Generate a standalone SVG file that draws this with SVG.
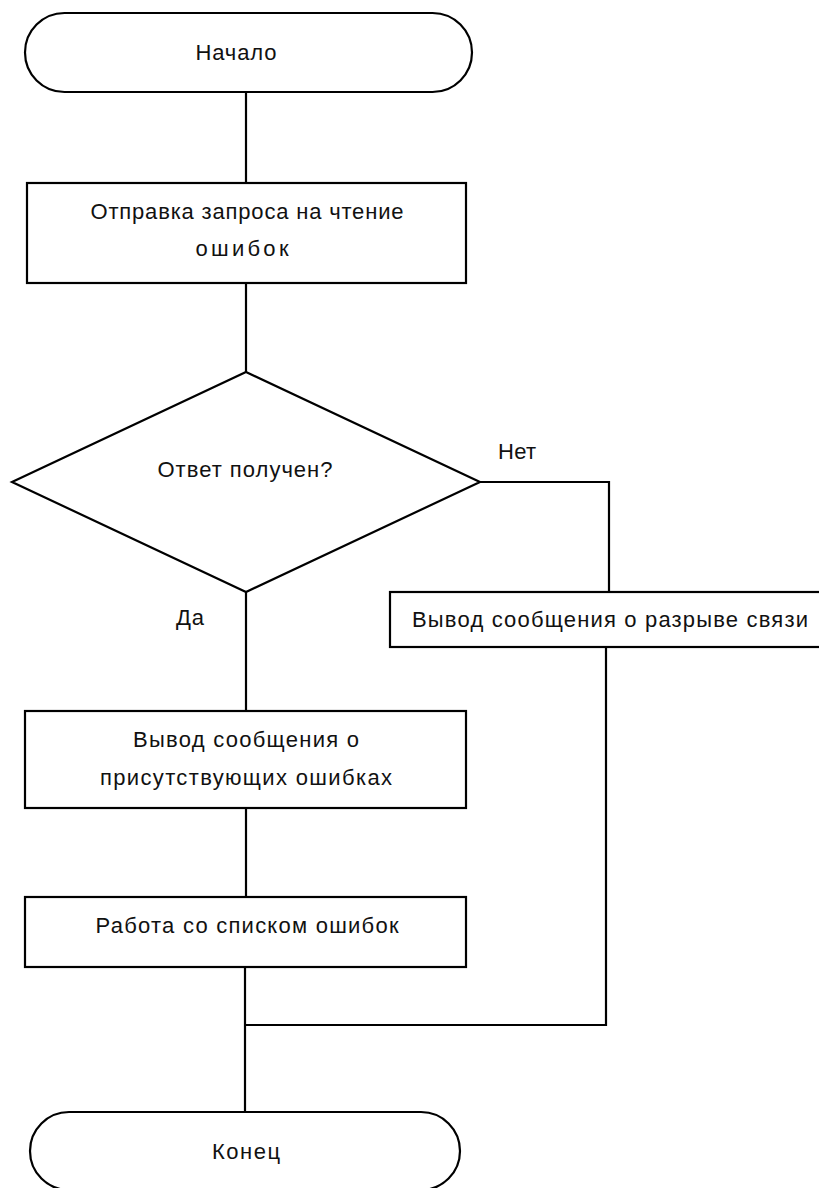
<svg xmlns="http://www.w3.org/2000/svg" width="819" height="1188" viewBox="0 0 819 1188">
<style>
.s{fill:#fff;stroke:#000;stroke-width:2.2}
.c{fill:none;stroke:#000;stroke-width:2.2}
text{font-family:"Liberation Sans",Arial,sans-serif;font-size:22px;fill:#111;text-anchor:middle}
</style>
<rect width="819" height="1188" fill="#fff"/>
<g id="connectors">
<line class="c" x1="246" y1="92" x2="246" y2="183"/>
<line class="c" x1="246" y1="283" x2="246" y2="372"/>
<line class="c" x1="246" y1="592" x2="246" y2="711"/>
<line class="c" x1="246" y1="808" x2="246" y2="897"/>
<line class="c" x1="245" y1="967" x2="245" y2="1112"/>
<polyline class="c" points="480,482 609,482 609,592"/>
<polyline class="c" points="606,647 606,1025 245,1025"/>
<text x="517" y="459" textLength="38">Нет</text>
<text x="190" y="625" textLength="28">Да</text>
</g>
<g id="start">
<rect class="s" x="25" y="13" width="447" height="79" rx="39.5"/>
<text x="236" y="60" textLength="81">Начало</text>
</g>
<g id="request">
<rect class="s" x="27" y="183" width="439" height="100"/>
<text x="247" y="219" textLength="313">Отправка запроса на чтение</text>
<text x="242" y="256" textLength="93">ошибок</text>
</g>
<g id="decision">
<polygon class="s" points="246,372 480,482 246,592 12,482"/>
<text x="245" y="477" textLength="175">Ответ получен?</text>
</g>
<g id="disconnect">
<rect class="s" x="390" y="592" width="440" height="55"/>
<text x="610" y="627" textLength="396">Вывод сообщения о разрыве связи</text>
</g>
<g id="errors">
<rect class="s" x="25" y="711" width="441" height="97"/>
<text x="246" y="747" textLength="226">Вывод сообщения о</text>
<text x="246" y="785" textLength="292">присутствующих ошибках</text>
</g>
<g id="worklist">
<rect class="s" x="25" y="897" width="441" height="70"/>
<text x="247" y="933" textLength="303">Работа со списком ошибок</text>
</g>
<g id="end">
<rect class="s" x="30" y="1112" width="430" height="78" rx="39"/>
<text x="246" y="1159" textLength="68">Конец</text>
</g>
</svg>
